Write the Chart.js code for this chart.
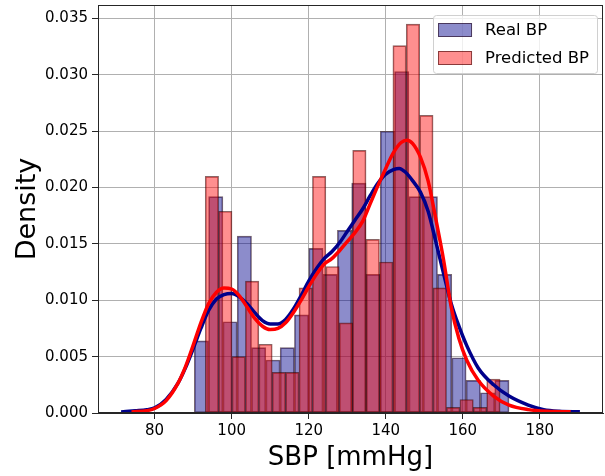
<!DOCTYPE html>
<html>
<head>
<meta charset="utf-8">
<script src="https://cdn.jsdelivr.net/npm/chart.js@4.4.0/dist/chart.umd.min.js"></script>
<style>
  html, body { margin: 0; padding: 0; background: #fff; }
</style>
</head>
<body>
<canvas id="bpChart" width="605" height="476"></canvas>
<script>
const xTicks = [80, 100, 120, 140, 160, 180];
const yTicks = [0, 0.005, 0.010, 0.015, 0.020, 0.025, 0.030, 0.035];

// histogram bins (centres) and densities
const realBinCenters = [92.16, 95.87, 99.58, 103.30, 107.01, 110.73, 114.44, 118.15, 121.87, 125.58, 129.30,
  133.01, 136.72, 140.44, 144.15, 147.87, 151.58, 155.29, 159.01, 162.72, 166.44, 170.15];
const realDensity = [0.0064, 0.0192, 0.0081, 0.0157, 0.0058, 0.0047, 0.0058, 0.0087, 0.0146, 0.0123, 0.0162,
  0.0204, 0.0123, 0.0250, 0.0303, 0.0192, 0.0192, 0.0123, 0.0049, 0.0029, 0.0018, 0.0029];

const predBinCenters = [94.87, 98.35, 101.83, 105.31, 108.79, 112.27, 115.75, 119.23, 122.71, 126.19, 129.67,
  133.15, 136.63, 140.11, 143.59, 147.07, 150.55, 154.03, 157.51, 160.99, 164.47, 167.95];
const predDensity = [0.0210, 0.0179, 0.0050, 0.0117, 0.0061, 0.0036, 0.0036, 0.0111, 0.0210, 0.0130, 0.0080,
  0.0233, 0.0154, 0.0134, 0.0326, 0.0345, 0.0264, 0.0111, 0.0005, 0.0012, 0.0005, 0.0030];

// kde curves
const realKdeX = [71.3, 75, 78, 80, 83, 86, 88, 90, 92, 94, 96, 98, 100, 102, 104, 106, 108, 110, 112, 114, 116,
  118, 120, 122, 124, 126, 128, 130, 132, 134, 136, 138, 140, 142, 143.5, 145, 147, 149, 151, 153, 155, 157,
  159, 161, 164, 168, 172, 177, 181, 185, 190.4];
const realKdeY = [0.0001, 0.0002, 0.0003, 0.00045, 0.0012, 0.0026, 0.0040, 0.0057, 0.0075, 0.0091, 0.0101,
  0.0105, 0.0106, 0.0103, 0.0097, 0.0089, 0.0082, 0.0079, 0.0079, 0.0083, 0.0092, 0.0104, 0.0117, 0.0128,
  0.0137, 0.0143, 0.0151, 0.0161, 0.0171, 0.0181, 0.0193, 0.0204, 0.0212, 0.0216, 0.0217, 0.0214, 0.0206,
  0.0196, 0.0179, 0.0152, 0.0124, 0.0097, 0.0077, 0.0060, 0.0040, 0.0025, 0.0015, 0.0007, 0.0003, 0.00015, 0.0001];

const predKdeX = [74, 78, 80, 83, 86, 88, 90, 92, 94, 96, 98, 100, 102, 104, 106, 108, 110, 112, 114, 116, 118,
  120, 122, 124, 126, 128, 130, 132, 134, 136, 138, 140, 142, 144, 145.5, 147, 149, 151, 153, 155, 157, 159,
  161, 164, 168, 172, 177, 182, 188];
const predKdeY = [0.0001, 0.0002, 0.0004, 0.0011, 0.0026, 0.0041, 0.0060, 0.0080, 0.0097, 0.0107, 0.0111,
  0.0110, 0.0104, 0.0094, 0.0084, 0.0077, 0.0074, 0.0075, 0.0080, 0.0089, 0.0100, 0.0112, 0.0123, 0.0132,
  0.0137, 0.0144, 0.0152, 0.0160, 0.0170, 0.0186, 0.0202, 0.0217, 0.0231, 0.0240, 0.0242, 0.0239, 0.0227,
  0.0206, 0.0172, 0.0136, 0.0094, 0.0066, 0.0047, 0.0029, 0.0015, 0.0007, 0.0003, 0.00015, 0.0001];

const FONT = "'DejaVu Sans', sans-serif";
const toPoints = (xs, ys) => xs.map((x, i) => ({ x: x, y: ys[i] }));
const setTicks = (list) => (scale) => { scale.ticks = list.map(v => ({ value: v })); };

// frame round the plot + matplotlib-like legend box
const framePlugin = {
  id: 'frameAndLegend',
  afterDraw(chart) {
    const ctx = chart.ctx;
    const ca = chart.chartArea;
    ctx.save();
    ctx.strokeStyle = '#262626';
    ctx.lineWidth = 1;
    ctx.strokeRect(ca.left + 0.5, ca.top + 0.5, ca.right - ca.left - 1, ca.bottom - ca.top - 1);

    const items = chart.data.datasets.filter(d => d.type === 'bar');
    ctx.font = '16.5px ' + FONT;
    const textW = Math.max(...items.map(d => ctx.measureText(d.label).width));
    const boxW = 5 + 34 + 13 + textW + 8;
    const boxH = 58;
    const bx = ca.right - 6 - boxW;
    const by = ca.top + 10;
    ctx.fillStyle = 'rgba(255,255,255,0.8)';
    ctx.strokeStyle = '#d0d0d0';
    ctx.beginPath();
    ctx.roundRect(bx + 0.5, by + 0.5, boxW, boxH, 3);
    ctx.fill();
    ctx.stroke();
    items.forEach((d, i) => {
      const cy = by + 15 + i * 28;
      ctx.fillStyle = d.backgroundColor;
      ctx.fillRect(bx + 5, cy - 7, 34, 14);
      ctx.strokeStyle = d.borderColor;
      ctx.strokeRect(bx + 5.5, cy - 6.5, 33, 13);
      ctx.fillStyle = '#000';
      ctx.textBaseline = 'middle';
      ctx.textAlign = 'left';
      ctx.fillText(d.label, bx + 52, cy + 1);
    });
    ctx.restore();
  }
};

const ctx = document.getElementById('bpChart').getContext('2d');
const bpChart = new Chart(ctx, {
  type: 'bar',
  data: {
    datasets: [
      {
        type: 'bar',
        label: 'Real BP',
        data: toPoints(realBinCenters, realDensity),
        xAxisID: 'x',
        backgroundColor: 'rgba(0,0,139,0.45)',
        borderColor: 'rgba(30,0,20,0.6)',
        borderWidth: 1,
        borderSkipped: false,
        barPercentage: 1,
        categoryPercentage: 1,
        grouped: false,
        order: 3
      },
      {
        type: 'bar',
        label: 'Predicted BP',
        data: toPoints(predBinCenters, predDensity),
        xAxisID: 'x2',
        backgroundColor: 'rgba(255,0,0,0.44)',
        borderColor: 'rgba(60,0,0,0.6)',
        borderWidth: 1,
        borderSkipped: false,
        barPercentage: 1,
        categoryPercentage: 1,
        grouped: false,
        order: 2
      },
      {
        type: 'line',
        label: 'Real BP kde',
        data: toPoints(realKdeX, realKdeY),
        xAxisID: 'x',
        borderColor: '#00008b',
        borderWidth: 3.5,
        pointRadius: 0,
        fill: false,
        cubicInterpolationMode: 'monotone',
        order: 1
      },
      {
        type: 'line',
        label: 'Predicted BP kde',
        data: toPoints(predKdeX, predKdeY),
        xAxisID: 'x',
        borderColor: '#ff0000',
        borderWidth: 3.5,
        pointRadius: 0,
        fill: false,
        cubicInterpolationMode: 'monotone',
        order: 0
      }
    ]
  },
  options: {
    responsive: false,
    animation: false,
    layout: { padding: { top: 5, right: 2, left: 0, bottom: 0 } },
    plugins: {
      legend: { display: false },
      tooltip: { enabled: false }
    },
    scales: {
      x: {
        type: 'linear',
        min: 65.3,
        max: 196.4,
        offset: false,
        afterBuildTicks: setTicks(xTicks),
        afterFit: (s) => { s.height = 63; s.paddingLeft = 0; s.paddingRight = 0; },
        grid: { color: '#b0b0b0', tickColor: '#262626', tickLength: 6, offset: false },
        border: { color: '#262626' },
        ticks: { color: '#000', padding: 3, maxRotation: 0, font: { family: FONT, size: 15 } },
        title: {
          display: true,
          text: 'SBP [mmHg]',
          color: '#000',
          font: { family: FONT, size: 26 },
          padding: { top: 0, bottom: 2 }
        }
      },
      x2: {
        type: 'linear',
        display: false,
        min: 65.3,
        max: 196.4,
        offset: false,
        grid: { offset: false },
        afterBuildTicks: setTicks(xTicks)
      },
      y: {
        type: 'linear',
        min: 0,
        max: 0.0362,
        afterBuildTicks: setTicks(yTicks),
        afterFit: (s) => { s.width = 98; s.paddingTop = 0; s.paddingBottom = 0; },
        grid: { color: '#b0b0b0', tickColor: '#262626', tickLength: 6 },
        border: { color: '#262626' },
        ticks: {
          color: '#000',
          padding: 4,
          font: { family: FONT, size: 15 },
          callback: (v) => v.toFixed(3)
        },
        title: {
          display: true,
          text: 'Density',
          color: '#000',
          font: { family: FONT, size: 27 },
          padding: { top: 12, bottom: 0 }
        }
      }
    }
  },
  plugins: [framePlugin]
});
</script>
</body>
</html>
